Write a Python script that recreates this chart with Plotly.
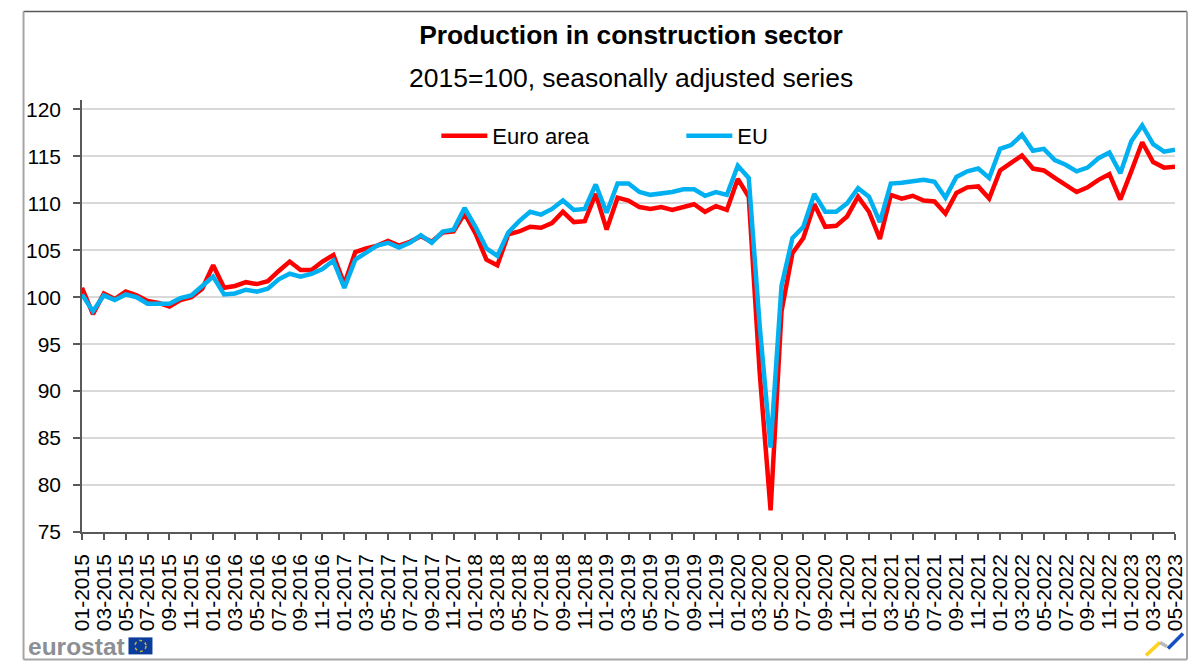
import plotly.graph_objects as go

# index 2015=100, monthly from 01-2015 to 05-2023
months = [f"{m:02d}-{y}" for y in range(2015, 2024) for m in range(1, 13)][:101]

euro_area = [
    101.0, 98.2, 100.4, 99.8, 100.6, 100.2, 99.6, 99.4, 99.0, 99.7, 100.0, 100.9,
    103.4, 101.0, 101.2, 101.6, 101.4, 101.7, 102.8, 103.8, 102.9, 102.9, 103.8, 104.5,
    101.4, 104.8, 105.2, 105.5, 106.0, 105.5, 105.9, 106.5, 105.9, 106.9, 107.0, 108.9,
    106.8, 104.0, 103.4, 106.7, 107.0, 107.5, 107.4, 107.9, 109.1, 108.0, 108.1, 111.0,
    107.2, 110.6, 110.3, 109.6, 109.4, 109.6, 109.3, 109.6, 109.9, 109.1, 109.7, 109.3,
    112.6, 110.7, 92.0, 77.3, 98.5, 104.7, 106.3, 109.9, 107.5, 107.6, 108.6, 110.7,
    109.1, 106.2, 110.9, 110.5, 110.8, 110.3, 110.2, 108.9, 111.1, 111.7, 111.8, 110.5,
    113.5, 114.3, 115.1, 113.7, 113.5, 112.7, 112.0, 111.2, 111.7, 112.5, 113.1, 110.4,
    113.4, 116.5, 114.4, 113.8, 113.9,
]
eu = [
    100.3, 98.5, 100.2, 99.7, 100.3, 100.0, 99.3, 99.3, 99.3, 99.9, 100.2, 101.2,
    102.2, 100.3, 100.4, 100.8, 100.6, 100.9, 101.9, 102.5, 102.2, 102.5, 103.0, 103.9,
    101.0, 104.0, 104.7, 105.5, 105.8, 105.3, 105.8, 106.6, 105.8, 107.0, 107.2, 109.5,
    107.5, 105.2, 104.4, 106.9, 108.1, 109.1, 108.8, 109.4, 110.3, 109.3, 109.4, 112.0,
    109.0, 112.1, 112.1, 111.2, 110.9, 111.0, 111.2, 111.5, 111.5, 110.8, 111.2, 110.9,
    114.0, 112.7, 97.0, 84.0, 101.2, 106.3, 107.5, 111.0, 109.1, 109.1, 110.0, 111.6,
    110.7, 108.0, 112.1, 112.2, 112.4, 112.5, 112.3, 110.6, 112.8, 113.4, 113.7, 112.7,
    115.8, 116.2, 117.3, 115.6, 115.8, 114.6, 114.1, 113.4, 113.8, 114.8, 115.4, 113.2,
    116.6, 118.3, 116.3, 115.5, 115.7,
]

W, H = 1200, 670
L, R, T, B = 81.5, 1175, 99.6, 531.6
FONT = "Liberation Sans"
DARK = "#595959"


def px_x(x):
    return (x - L) / (R - L)


def px_y(y):
    return (B - y) / (B - T)


def seg(x0, y0, x1, y1, color, width):
    return dict(type="line", xref="paper", yref="paper", layer="above",
                x0=px_x(x0), y0=px_y(y0), x1=px_x(x1), y1=px_y(y1),
                line=dict(color=color, width=width))


fig = go.Figure()
fig.add_trace(go.Scatter(x=months, y=euro_area, mode="lines", name="Euro area",
                         line=dict(color="#ff0000", width=4.5)))
fig.add_trace(go.Scatter(x=months, y=eu, mode="lines", name="EU",
                         line=dict(color="#00b0f0", width=4.5)))

# chart frame and logo bits
shapes = [
    seg(23, 11, 1187, 11, DARK, 1.5),
    seg(23, 11, 23, 659, "#a6a6a6", 2),
    seg(1187, 11, 1187, 659, "#a6a6a6", 2),
    seg(23, 659, 1187, 659, "#a6a6a6", 2),
    dict(type="rect", xref="paper", yref="paper", x0=px_x(128), x1=px_x(152),
         y0=px_y(654), y1=px_y(637), fillcolor="#0b3d9c", line=dict(width=0)),
    dict(type="circle", xref="paper", yref="paper", x0=px_x(134.5), x1=px_x(145.5),
         y0=px_y(651), y1=px_y(640), line=dict(color="#c9b23a", width=1.5, dash="dot")),
    seg(1146, 655, 1160, 642, "#ffd21f", 3.5),
    seg(1160, 642, 1167, 646, "#b8b8b8", 3.5),
    seg(1168, 648, 1183, 633, "#1450c0", 3.5),
]

annotations = [
    dict(text="2015=100, seasonally adjusted series", xref="paper", yref="paper",
         x=px_x(630.5), y=px_y(78), xanchor="center", yanchor="middle", showarrow=False,
         font=dict(family=FONT, size=26.5, color="#000000")),
    dict(text="<b>eurostat</b>", xref="paper", yref="paper",
         x=px_x(25), y=px_y(646), xanchor="left", yanchor="middle", showarrow=False,
         font=dict(family=FONT, size=24.5, color="#8c8f94")),
]

fig.update_layout(
    width=W, height=H,
    margin=dict(l=L, r=W - R, t=T, b=H - B, pad=0),
    paper_bgcolor="white", plot_bgcolor="white",
    title=dict(text="<b>Production in construction sector</b>", x=631 / W, xanchor="center",
               y=1 - 35 / H, yanchor="middle", font=dict(family=FONT, size=26.4, color="#000000")),
    legend=dict(orientation="h", x=px_x(436), y=px_y(135.5), xanchor="left", yanchor="middle",
                itemwidth=46, entrywidth=184, entrywidthmode="pixels", traceorder="normal",
                bgcolor="rgba(0,0,0,0)", font=dict(family=FONT, size=22, color="#000000")),
    shapes=shapes,
    annotations=annotations,
    xaxis=dict(type="category", range=[0, 100], dtick=2, tickangle=-90, ticks="outside",
               ticklen=6, tickwidth=1.5, tickcolor=DARK, showline=True, linecolor=DARK,
               linewidth=1.5, showgrid=False, ticklabelstandoff=6,
               tickfont=dict(family=FONT, size=21, color="#000000")),
    yaxis=dict(range=[75, 121], tick0=75, dtick=5, ticks="outside", ticklen=7, tickwidth=1.5,
               tickcolor=DARK, showline=True, linecolor=DARK, linewidth=1.5, showgrid=True,
               gridcolor="#d9d9d9", gridwidth=1.5, zeroline=False, ticklabelstandoff=8,
               tickfont=dict(family=FONT, size=21, color="#000000")),
)

# page margin would shift everything by 8px
fig.write_html("out.html", config={"displayModeBar": False},
               post_script="document.body.style.margin='0';")
